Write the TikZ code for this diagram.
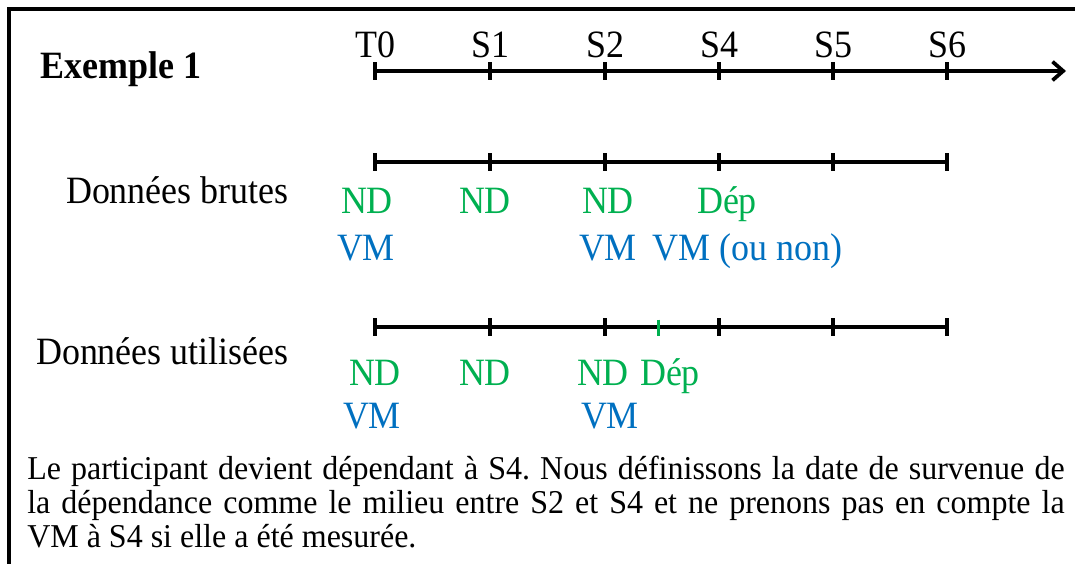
\documentclass[tikz,border=0pt]{standalone}
\usepackage{fontspec}
\setmainfont{Liberation Serif}[FakeStretch=0.93]
\newfontfamily\notefont{Liberation Serif}[FakeStretch=0.96]
\usetikzlibrary{arrows.meta,calc}
\definecolor{nd}{HTML}{00B050}
\definecolor{vm}{HTML}{0070C0}
\newcommand{\lbl}{\fontsize{29}{34}\selectfont}

\begin{document}
\begin{tikzpicture}[x=0.75pt,y=-0.75pt,
 every node/.style={inner sep=0pt,font=\lbl},
 axe/.style={line width=2.8pt},
 tic/.style={line width=2.8pt},
 green/.style={text=nd,anchor=base},
 blue/.style={text=vm,anchor=base}]
\useasboundingbox (0,0) rectangle (1075,564);
\draw[line width=3pt] (9,564) -- (9,9) -- (1075,9);

% axe du temps
\foreach \x [count=\i from 0] in {375,490,605,719,833,947}
{
  \coordinate (a\i) at (\x,71);
  \coordinate (b\i) at (\x,162);
  \coordinate (c\i) at (\x,327);
}
\coordinate (fin) at (1066,71);
\draw[axe,-{Straight Barb[length=8pt,width=14pt]}] (a0) -- (fin);
\draw[axe] (b0) -- (b5);
\draw[axe] (c0) -- (c5);
\foreach \i in {0,...,5}
{
  \draw[tic] ([yshift=6.5pt]a\i) -- ([yshift=-6.5pt]a\i);
  \draw[tic] ([yshift=6.5pt]b\i) -- ([yshift=-6.5pt]b\i);
  \draw[tic] ([yshift=6.5pt]c\i) -- ([yshift=-6.5pt]c\i);
}
\coordinate (mid) at ($(c2)!0.47!(c3)$);
\draw[nd,line width=2pt] ([yshift=5.5pt]mid) -- ([yshift=-7pt]mid);

\foreach \i/\t in {0/T0,1/S1,2/S2,3/S4,4/S5,5/S6}
  \node[anchor=base] (t\i) at ([yshift=10.5pt]a\i) {\t};

\node[anchor=base west,font=\lbl\bfseries] (ex) at (40,78) {Exemple 1};
\node[anchor=base east] (brut) at (289,203) {Données brutes};
\node[anchor=base east] (util) at (289,364) {Données utilisées};

% donnees brutes
\node[green] (nd1) at (367,213) {ND};
\node[green] (nd2) at (485,213) {ND};
\node[green] (nd3) at (608,213) {ND};
\node[green] (dep1) at (727,213) {Dép};
\node[blue] (vm1) at (366,260) {VM};
\node[blue] (vm2) at (608,260) {VM};
\node[blue,anchor=base west] (vm3) at (652,260) {VM (ou non)};

% donnees utilisees
\node[green] (nd4) at (375,385) {ND};
\node[green] (nd5) at (485,385) {ND};
\node[green] (nd6) at (603,385) {ND};
\node[green] (dep2) at (670,385) {Dép};
\node[blue] (vm4) at (372,428) {VM};
\node[blue] (vm5) at (610,428) {VM};

\node[anchor=base west,text width=778pt,align=justify,
  font=\notefont\fontsize{25}{25.8}\selectfont\frenchspacing] (note) at (27,479)
  {Le participant devient dépendant à S4. Nous définissons la date de survenue de\linebreak
   la dépendance comme le milieu entre S2 et S4 et ne prenons pas en compte la\linebreak
   VM à S4 si elle a été mesurée.};
\end{tikzpicture}
\end{document}
